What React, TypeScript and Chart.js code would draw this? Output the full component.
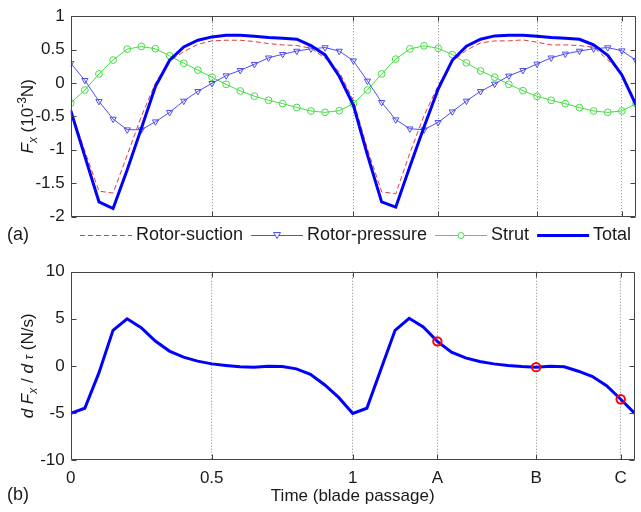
import { useEffect, useRef } from "react";
import { Chart, registerables } from "chart.js";

Chart.register(...registerables);

// Time axis in blade passages
const TIME = [
  0, 0.05, 0.1, 0.15, 0.2, 0.25, 0.3, 0.35, 0.4, 0.45,
  0.5, 0.55, 0.6, 0.65, 0.7, 0.75, 0.8, 0.85, 0.9, 0.95,
  1, 1.05, 1.1, 1.15, 1.2, 1.25, 1.3, 1.35, 1.4, 1.45,
  1.5, 1.55, 1.6, 1.65, 1.7, 1.75, 1.8, 1.85, 1.9, 1.95, 2,
];

// Axial force components, 10^-3 N
const ROTOR_SUCTION = [
  -0.4, -1.02, -1.62, -1.65, -1.08, -0.5, 0.0, 0.33, 0.47, 0.58,
  0.63, 0.64, 0.64, 0.62, 0.59, 0.57, 0.56, 0.52, 0.37, 0.17,
  -0.26, -0.99, -1.63, -1.66, -1.05, -0.49, -0.04, 0.32, 0.49, 0.6,
  0.63, 0.63, 0.645, 0.61, 0.57, 0.57, 0.56, 0.535, 0.345, 0.15, -0.3,
];
const ROTOR_PRESSURE = [
  0.295, 0.04, -0.275, -0.54, -0.7, -0.7, -0.58, -0.44, -0.27, -0.125,
  -0.005, 0.11, 0.19, 0.28, 0.377, 0.43, 0.478, 0.512, 0.53, 0.478,
  0.333, 0.03, -0.29, -0.55, -0.686, -0.7, -0.59, -0.43, -0.27, -0.125,
  -0.015, 0.106, 0.19, 0.285, 0.377, 0.435, 0.478, 0.512, 0.53, 0.483, 0.34,
];
const STRUT = [
  -0.3, -0.106, 0.135, 0.343, 0.507, 0.546, 0.512, 0.406, 0.295, 0.193,
  0.085, -0.02, -0.12, -0.198, -0.26, -0.31, -0.367, -0.42, -0.44, -0.415,
  -0.31, -0.106, 0.135, 0.357, 0.51, 0.556, 0.52, 0.425, 0.3, 0.18,
  0.087, -0.02, -0.116, -0.2, -0.26, -0.31, -0.37, -0.42, -0.44, -0.42, -0.31,
];
const TOTAL = [
  -0.41, -1.1, -1.78, -1.88, -1.3, -0.68, -0.05, 0.34, 0.54, 0.64,
  0.69, 0.715, 0.715, 0.7, 0.68, 0.67, 0.655, 0.56, 0.42, 0.1,
  -0.33, -1.08, -1.78, -1.86, -1.25, -0.66, -0.09, 0.34, 0.55, 0.655,
  0.705, 0.715, 0.715, 0.7, 0.68, 0.67, 0.655, 0.57, 0.415, 0.12, -0.33,
];

// Time derivative of the total axial force, N/s
const DFX_DTAU = [
  -5.05, -4.5, -0.75, 3.77, 5.0, 4.05, 2.63, 1.57, 0.93, 0.5,
  0.21, 0.04, -0.1, -0.14, -0.04, -0.07, -0.32, -0.9, -2.0, -3.35,
  -5.05, -4.5, -0.36, 3.77, 5.05, 4.13, 2.6, 1.46, 0.85, 0.46,
  0.21, 0.04, -0.07, -0.14, -0.04, -0.1, -0.57, -1.14, -2.1, -3.55, -5.05,
];

// Instants A, B and C marked on the derivative curve
const MARKED_TIMES = [1.3, 1.65, 1.95];

const X_TICK_VALUES = [0, 0.5, 1, 1.3, 1.65, 1.95];
const X_TICK_LABELS = ["0", "0.5", "1", "A", "B", "C"];
const LEGEND_LABELS = ["Rotor-suction", "Rotor-pressure", "Strut", "Total"];

const FONT = "'Liberation Sans', Arial, Helvetica, sans-serif";
const TEXT = "#1a1a1a";
const AXIS = "#444";
const C_SUCTION = "#e23a3a";
const C_PRESSURE = "#4d4df0";
const C_STRUT = "#44dd44";
const C_TOTAL = "#0000ff";

type Run = { text: string; size: number; italic?: boolean; shift?: number };

function runFont(r: Run) {
  return `${r.italic ? "italic " : ""}${r.size}px ${FONT}`;
}

// Rotated axis title made of runs (sub/superscripts, italics)
function drawVerticalRuns(ctx: CanvasRenderingContext2D, runs: Run[], cx: number, cy: number) {
  ctx.save();
  ctx.translate(cx, cy);
  ctx.rotate(-Math.PI / 2);
  ctx.fillStyle = TEXT;
  ctx.textBaseline = "alphabetic";
  ctx.textAlign = "left";
  const widths = runs.map((r) => {
    ctx.font = runFont(r);
    return ctx.measureText(r.text).width;
  });
  const total = widths.reduce((a, b) => a + b, 0);
  let x = -total / 2;
  runs.forEach((r, i) => {
    ctx.font = runFont(r);
    ctx.fillText(r.text, x, 6 + (r.shift || 0));
    x += widths[i];
  });
  ctx.restore();
}

// Box around the plot area with inward tick marks
const framePlugin = {
  id: "frame",
  afterDraw(chart: any) {
    const { ctx, chartArea: a, scales } = chart;
    const L = 5;
    ctx.save();
    ctx.strokeStyle = AXIS;
    ctx.lineWidth = 1;
    const left = Math.round(a.left) + 0.5;
    const right = Math.round(a.right) - 0.5;
    const top = Math.round(a.top) + 0.5;
    const bottom = Math.round(a.bottom) - 0.5;
    ctx.beginPath();
    ctx.rect(left, top, right - left, bottom - top);
    scales.y.ticks.forEach((t: any) => {
      const y = Math.round(scales.y.getPixelForValue(t.value)) + 0.5;
      ctx.moveTo(left, y);
      ctx.lineTo(left + L, y);
      ctx.moveTo(right, y);
      ctx.lineTo(right - L, y);
    });
    scales.x.ticks.forEach((t: any) => {
      const x = Math.round(scales.x.getPixelForValue(t.value)) + 0.5;
      ctx.moveTo(x, bottom);
      ctx.lineTo(x, bottom - L);
      ctx.moveTo(x, top);
      ctx.lineTo(x, top + L);
    });
    ctx.stroke();
    ctx.restore();
  },
};

function xScale(showLabels: boolean, height: number) {
  return {
    type: "linear",
    min: 0,
    max: 2,
    afterBuildTicks: (s: any) => {
      s.ticks = X_TICK_VALUES.map((v) => ({ value: v }));
    },
    afterFit: (s: any) => {
      s.height = height;
    },
    ticks: {
      display: showLabels,
      autoSkip: false,
      maxRotation: 0,
      padding: 8,
      color: TEXT,
      font: { family: FONT, size: 17 },
      callback: (_v: any, i: number) => X_TICK_LABELS[i],
    },
    grid: {
      drawTicks: false,
      lineWidth: 1,
      color: (c: any) => (c.tick && c.tick.value === 0 ? "rgba(0,0,0,0)" : "#8a8a8a"),
    },
    border: { display: false, dash: [1, 2] },
  };
}

function yScale(min: number, max: number, step: number) {
  return {
    min,
    max,
    afterFit: (s: any) => {
      s.width = 70.7;
    },
    ticks: {
      stepSize: step,
      padding: 6,
      color: TEXT,
      font: { family: FONT, size: 17 },
      callback: (v: any) => String(Math.round(Number(v) * 100) / 100),
    },
    grid: { display: false, drawTicks: false },
    border: { display: false },
  };
}

const pts = (ys: number[]) => TIME.map((t, i) => ({ x: t, y: ys[i] }));

// Legend and panel tag for the force panel
const forceDecor = {
  id: "forceDecor",
  afterDraw(chart: any) {
    const ctx: CanvasRenderingContext2D = chart.ctx;
    const a = chart.chartArea;
    ctx.save();
    drawVerticalRuns(
      ctx,
      [
        { text: "F", size: 17, italic: true },
        { text: "x", size: 12, italic: true, shift: 4 },
        { text: " (10", size: 17 },
        { text: "-3", size: 12, shift: -7 },
        { text: "N)", size: 17 },
      ],
      27,
      (a.top + a.bottom) / 2
    );
    const y = 235;
    ctx.fillStyle = TEXT;
    ctx.font = `18px ${FONT}`;
    ctx.textBaseline = "middle";
    ctx.textAlign = "left";
    ctx.fillText("(a)", 7, y);
    const styles = [
      { color: C_SUCTION, width: 1, dash: [5, 3], marker: "" },
      { color: C_PRESSURE, width: 1, dash: [], marker: "tri" },
      { color: C_STRUT, width: 1, dash: [], marker: "circle" },
      { color: C_TOTAL, width: 3, dash: [], marker: "" },
    ];
    let x = 80;
    LEGEND_LABELS.forEach((label, i) => {
      const st = styles[i];
      ctx.save();
      ctx.strokeStyle = st.color;
      ctx.lineWidth = st.width;
      ctx.setLineDash(st.dash);
      ctx.beginPath();
      ctx.moveTo(x, y + 0.5);
      ctx.lineTo(x + 52, y + 0.5);
      ctx.stroke();
      ctx.setLineDash([]);
      const mx = x + 26;
      if (st.marker === "tri") {
        ctx.beginPath();
        ctx.moveTo(mx - 3.5, y - 2.5);
        ctx.lineTo(mx + 3.5, y - 2.5);
        ctx.lineTo(mx, y + 3.5);
        ctx.closePath();
        ctx.fillStyle = "#fff";
        ctx.fill();
        ctx.stroke();
      } else if (st.marker === "circle") {
        ctx.beginPath();
        ctx.arc(mx, y + 0.5, 3, 0, Math.PI * 2);
        ctx.fillStyle = "#fff";
        ctx.fill();
        ctx.stroke();
      }
      ctx.restore();
      ctx.fillStyle = TEXT;
      ctx.font = `18px ${FONT}`;
      ctx.fillText(label, x + 56, y);
      x += 56 + ctx.measureText(label).width + 8;
    });
    ctx.restore();
  },
};

// Axis titles and panel tag for the derivative panel
const rateDecor = {
  id: "rateDecor",
  afterDraw(chart: any) {
    const ctx: CanvasRenderingContext2D = chart.ctx;
    const a = chart.chartArea;
    ctx.save();
    drawVerticalRuns(
      ctx,
      [
        { text: "d ", size: 17, italic: true },
        { text: "F", size: 17, italic: true },
        { text: "x", size: 12, italic: true, shift: 4 },
        { text: " / ", size: 17 },
        { text: "d ", size: 17, italic: true },
        { text: "τ", size: 12, italic: true },
        { text: " (N/s)", size: 17 },
      ],
      27,
      (a.top + a.bottom) / 2
    );
    ctx.fillStyle = TEXT;
    ctx.textBaseline = "middle";
    ctx.font = `18px ${FONT}`;
    ctx.textAlign = "left";
    ctx.fillText("(b)", 7, 245);
    ctx.font = `17px ${FONT}`;
    ctx.textAlign = "center";
    ctx.fillText("Time (blade passage)", (a.left + a.right) / 2, 246);
    ctx.restore();
  },
};

function nearestIndex(t: number) {
  let best = 0;
  TIME.forEach((v, i) => {
    if (Math.abs(v - t) < Math.abs(TIME[best] - t)) best = i;
  });
  return best;
}

export default function App() {
  const topRef = useRef<HTMLCanvasElement>(null);
  const botRef = useRef<HTMLCanvasElement>(null);

  useEffect(() => {
    const top = new Chart(topRef.current as HTMLCanvasElement, {
      type: "line",
      data: {
        datasets: [
          {
            label: "Total",
            data: pts(TOTAL),
            borderColor: C_TOTAL,
            borderWidth: 3,
            pointRadius: 0,
            tension: 0,
          },
          {
            label: "Rotor-suction",
            data: pts(ROTOR_SUCTION),
            borderColor: C_SUCTION,
            borderWidth: 1,
            borderDash: [5, 3],
            pointRadius: 0,
            tension: 0,
          },
          {
            label: "Rotor-pressure",
            data: pts(ROTOR_PRESSURE),
            borderColor: C_PRESSURE,
            borderWidth: 1,
            pointStyle: "triangle",
            rotation: 180,
            pointRadius: 3.6,
            pointBorderWidth: 1,
            pointBorderColor: C_PRESSURE,
            pointBackgroundColor: "rgba(255,255,255,0)",
            tension: 0,
          },
          {
            label: "Strut",
            data: pts(STRUT),
            borderColor: C_STRUT,
            borderWidth: 1,
            pointStyle: "circle",
            pointRadius: 3.4,
            pointBorderWidth: 1,
            pointBorderColor: C_STRUT,
            pointBackgroundColor: "rgba(255,255,255,0)",
            tension: 0,
          },
        ],
      },
      options: {
        animation: false,
        responsive: false,
        devicePixelRatio: 1,
        layout: { padding: { top: 9.5, right: 1, left: 0, bottom: 0 } },
        plugins: { legend: { display: false }, tooltip: { enabled: false } },
        scales: {
          x: xScale(false, 250 - 216.5) as any,
          y: yScale(-2, 1, 0.5) as any,
        },
      },
      plugins: [framePlugin, forceDecor],
    });

    const marks = MARKED_TIMES.map((t) => {
      const i = nearestIndex(t);
      return { x: TIME[i], y: DFX_DTAU[i] };
    });

    const bot = new Chart(botRef.current as HTMLCanvasElement, {
      type: "line",
      data: {
        datasets: [
          {
            label: "marks",
            data: marks,
            showLine: false,
            pointStyle: "circle",
            pointRadius: 4.2,
            pointBorderWidth: 2,
            pointBorderColor: "#ff0000",
            pointBackgroundColor: "rgba(255,255,255,0)",
          },
          {
            label: "dFx/dtau",
            data: pts(DFX_DTAU),
            borderColor: C_TOTAL,
            borderWidth: 3,
            pointRadius: 0,
            tension: 0,
          },
        ],
      },
      options: {
        animation: false,
        responsive: false,
        devicePixelRatio: 1,
        layout: { padding: { top: 21.7, right: 1, left: 0, bottom: 0 } },
        plugins: { legend: { display: false }, tooltip: { enabled: false } },
        scales: {
          x: xScale(true, 262 - 210) as any,
          y: yScale(-10, 10, 5) as any,
        },
      },
      plugins: [framePlugin, rateDecor],
    });

    return () => {
      top.destroy();
      bot.destroy();
    };
  }, []);

  return (
    <div style={{ position: "absolute", left: 0, top: 0, width: 641, height: 512, background: "#fff" }}>
      <canvas
        ref={topRef}
        width={641}
        height={250}
        style={{ position: "absolute", left: 0, top: 0, width: 641, height: 250 }}
      />
      <canvas
        ref={botRef}
        width={641}
        height={262}
        style={{ position: "absolute", left: 0, top: 250, width: 641, height: 262 }}
      />
    </div>
  );
}
